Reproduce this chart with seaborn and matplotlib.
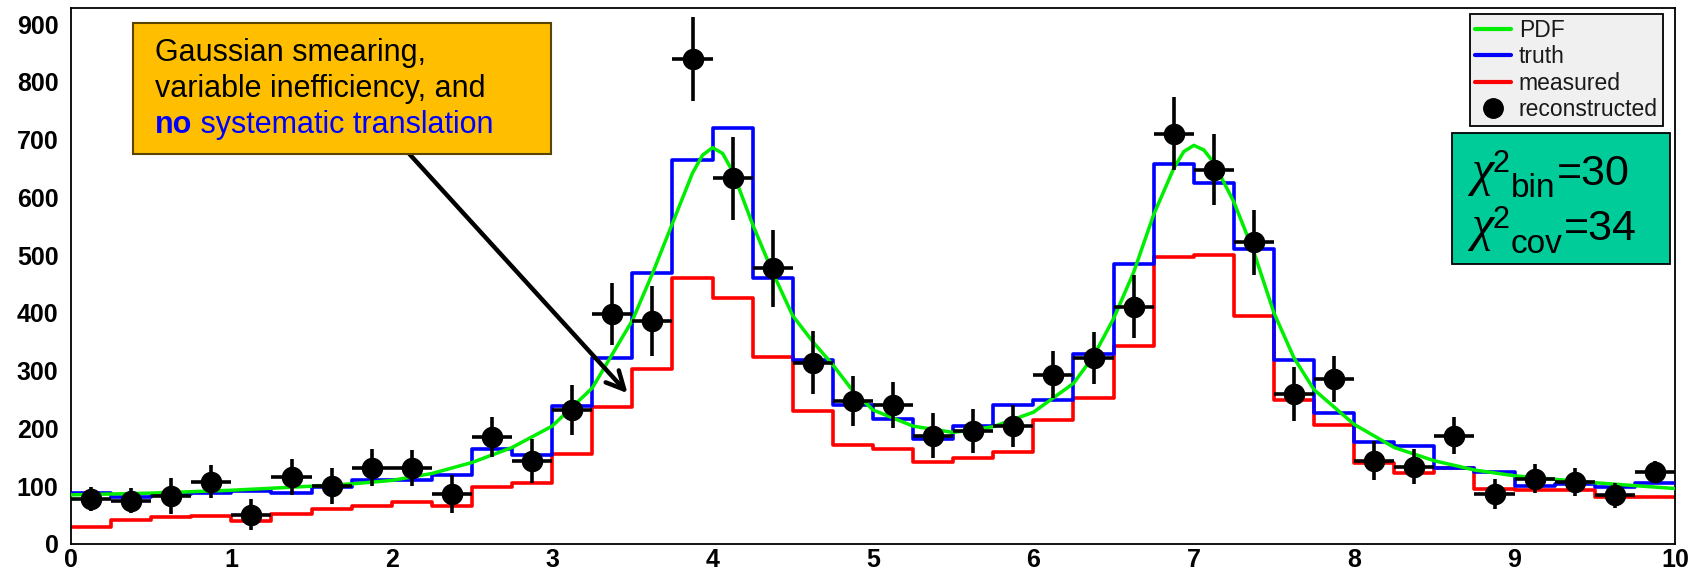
import numpy as np
import pandas as pd
import matplotlib
matplotlib.use("Agg")
import matplotlib.pyplot as plt
import seaborn as sns
from matplotlib.patches import Rectangle
from matplotlib.lines import Line2D
from matplotlib.ticker import MultipleLocator

# ---- data -------------------------------------------------------------
bin_width = 0.25
x_range = (0.0, 10.0)

truth = [89, 82, 86, 89, 91, 89, 99, 111, 111, 120,
         165, 154, 239, 322, 469, 665, 720, 460, 319, 241,
         217, 181, 204, 241, 249, 329, 485, 657, 625, 511,
         318, 227, 177, 170, 132, 124, 101, 103, 98, 106]

measured = [30, 41, 46, 49, 40, 52, 60, 66, 72, 66,
            98, 105, 155, 237, 303, 461, 425, 324, 231, 172,
            164, 142, 148, 159, 214, 253, 342, 496, 500, 395,
            249, 206, 141, 122, 131, 96, 94, 94, 82, 82]

reconstructed = [78, 75, 83, 108, 51, 116, 100, 132, 131, 86,
                 185, 144, 232, 398, 386, 840, 633, 477, 314, 247,
                 240, 187, 195, 204, 293, 322, 411, 710, 648, 522,
                 259, 286, 144, 134, 187, 86, 113, 107, 84, 125]

reconstructed_err = [21, 22, 31, 29, 27, 31, 31, 32, 31, 33,
                     34, 38, 43, 53, 60, 73, 72, 66, 55, 43,
                     40, 39, 38, 36, 41, 45, 54, 63, 62, 56,
                     47, 40, 34, 31, 32, 26, 25, 24, 22, 18]

pdf_x = [0.0, 0.5, 1.0, 1.5, 1.75, 2.0, 2.25, 2.5, 2.75, 3.0,
         3.25, 3.5, 3.625, 3.75, 3.875, 3.9375, 4.0, 4.0625, 4.125, 4.25,
         4.375, 4.5, 4.625, 4.75, 4.875, 5.0, 5.25, 5.5, 5.75, 6.0,
         6.25, 6.375, 6.5, 6.625, 6.75, 6.875, 6.9375, 7.0, 7.0625, 7.125,
         7.25, 7.375, 7.5, 7.625, 7.75, 8.0, 8.25, 8.5, 8.75, 9.0,
         9.5, 10.0]
pdf_y = [85, 88, 93, 100, 104, 110, 122, 141, 167, 204,
         270, 387, 468, 555, 642, 673, 686, 676, 645, 553,
         470, 395, 350, 310, 265, 232, 204, 193, 203, 228,
         278, 325, 390, 470, 570, 650, 679, 690, 682, 660,
         592, 505, 400, 322, 267, 207, 167, 144, 128, 118,
         106, 96]

x_ticks = [0, 1, 2, 3, 4, 5, 6, 7, 8, 9, 10]
y_ticks = [0, 100, 200, 300, 400, 500, 600, 700, 800, 900]

# ---- style ------------------------------------------------------------
sns.set_style("white")
plt.rcParams["font.family"] = ["Liberation Sans", "DejaVu Sans"]
plt.rcParams["text.color"] = "black"
plt.rcParams["axes.labelcolor"] = "black"

BLUE = "#0000ff"
RED = "#ff0000"
GREEN = "#00ee00"

fig = plt.figure(figsize=(17.06, 5.72), dpi=100)
ax = fig.add_axes([0.0416, 0.049, 0.9402, 0.937])

n_bins = len(truth)
centers = x_range[0] + bin_width * (np.arange(n_bins) + 0.5)
hist_df = pd.DataFrame({"x": centers, "truth": truth, "measured": measured})

sns.histplot(data=hist_df, x="x", weights="measured", binwidth=bin_width,
             binrange=x_range, element="step", fill=False, color=RED,
             linewidth=2.6, ax=ax, zorder=2)
sns.histplot(data=hist_df, x="x", weights="truth", binwidth=bin_width,
             binrange=x_range, element="step", fill=False, color=BLUE,
             linewidth=2.6, ax=ax, zorder=3)
sns.lineplot(x=pdf_x, y=pdf_y, color=GREEN, linewidth=2.5, ax=ax, zorder=4)
ax.errorbar(centers, reconstructed, xerr=bin_width / 2, yerr=reconstructed_err,
            fmt="o", color="black", markersize=14.5, elinewidth=2.6, capsize=0,
            zorder=6)

# ---- axes -------------------------------------------------------------
ax.set_xlim(*x_range)
ax.set_ylim(0, 927.7)
ax.set_xlabel("")
ax.set_ylabel("")
ax.set_xticks(x_ticks)
ax.set_yticks(y_ticks)
ax.xaxis.set_minor_locator(MultipleLocator(0.2))
ax.yaxis.set_minor_locator(MultipleLocator(20))
ax.tick_params(axis="both", which="both", direction="in", top=False,
               right=False, width=1.3, colors="black", labelsize=18)
ax.tick_params(axis="y", which="major", length=35, pad=9)
ax.tick_params(axis="y", which="minor", length=18)
ax.tick_params(axis="x", which="major", length=10, pad=3)
ax.tick_params(axis="x", which="minor", length=5)
for lab in ax.get_xticklabels() + ax.get_yticklabels():
    lab.set_fontweight("bold")
for sp in ax.spines.values():
    sp.set_color("black")
    sp.set_linewidth(1.3)

# ---- legend -----------------------------------------------------------
handles = [
    Line2D([], [], color=GREEN, lw=3),
    Line2D([], [], color=BLUE, lw=3),
    Line2D([], [], color=RED, lw=3),
    Line2D([], [], color="black", marker="o", markersize=14, linestyle="none"),
]
leg = ax.legend(handles, ["PDF", "truth", "measured", "reconstructed"],
                loc="upper right", bbox_to_anchor=(0.9925, 0.989),
                borderaxespad=0, fontsize=16.5, handlelength=1.55,
                handletextpad=0.35, labelspacing=0.15, borderpad=0.22,
                fancybox=False, framealpha=1, facecolor="#f0f0f0",
                edgecolor="black")
leg.get_frame().set_linewidth(1.3)
leg.set_zorder(10)
for txt in leg.get_texts():
    txt.set_color("#1a1a1a")

# ---- annotation box with arrow ---------------------------------------
ax.annotate("", xy=(3.47, 261), xytext=(2.11, 675),
            arrowprops=dict(arrowstyle="->", lw=3.2, color="black",
                            mutation_scale=32, shrinkA=0, shrinkB=0),
            zorder=7)
ax.add_patch(Rectangle((0.0387, 0.728), 0.299 - 0.0387, 0.972 - 0.728,
                       transform=ax.transAxes, facecolor="#ffbf00",
                       edgecolor="#5a4500", linewidth=1.5, zorder=8))
ax.text(0.0524, 0.916, "Gaussian smearing,", transform=ax.transAxes,
        fontsize=22, va="center", ha="left", color="black", zorder=9)
ax.text(0.0524, 0.849, "variable inefficiency, and", transform=ax.transAxes,
        fontsize=22, va="center", ha="left", color="black", zorder=9)
t_no = ax.text(0.0524, 0.782, "no", transform=ax.transAxes, fontsize=22,
               fontweight="bold", va="center", ha="left", color=BLUE, zorder=9)
ax.annotate(" systematic translation", xy=(1, 0), xycoords=t_no,
            fontsize=22, va="bottom", ha="left", color=BLUE, zorder=9)

# ---- chi-square box ---------------------------------------------------
ax.add_patch(Rectangle((0.8607, 0.5215), 0.9972 - 0.8607, 0.7674 - 0.5215,
                       transform=ax.transAxes, facecolor="#00cc99",
                       edgecolor="black", linewidth=1.3, zorder=8))


def chi_line(x0, baseline, sub, value):
    """Write chi^2 with a subscript tag followed by '=value'."""
    t_chi = ax.text(x0, baseline, "\u03c7", transform=ax.transAxes,
                    fontsize=36, family="Liberation Serif", style="italic",
                    va="baseline", ha="left", color="black", zorder=9)
    t_sup = ax.annotate("2", xy=(1.0, baseline), xycoords=(t_chi, "axes fraction"),
                        xytext=(-1, 9), textcoords="offset points",
                        fontsize=22, va="baseline", ha="left", color="black",
                        zorder=9)
    t_sub = ax.annotate(sub, xy=(1.0, baseline), xycoords=(t_sup, "axes fraction"),
                        xytext=(1, -9), textcoords="offset points",
                        fontsize=24, va="baseline", ha="left", color="black",
                        zorder=9)
    ax.annotate("=" + value, xy=(1.0, baseline), xycoords=(t_sub, "axes fraction"),
                xytext=(1, 0), textcoords="offset points",
                fontsize=31, va="baseline", ha="left", color="black", zorder=9)


chi_line(0.8733, 0.670, "bin", "30")
chi_line(0.8733, 0.567, "cov", "34")

fig.savefig("out.png", dpi=100, facecolor="white")
